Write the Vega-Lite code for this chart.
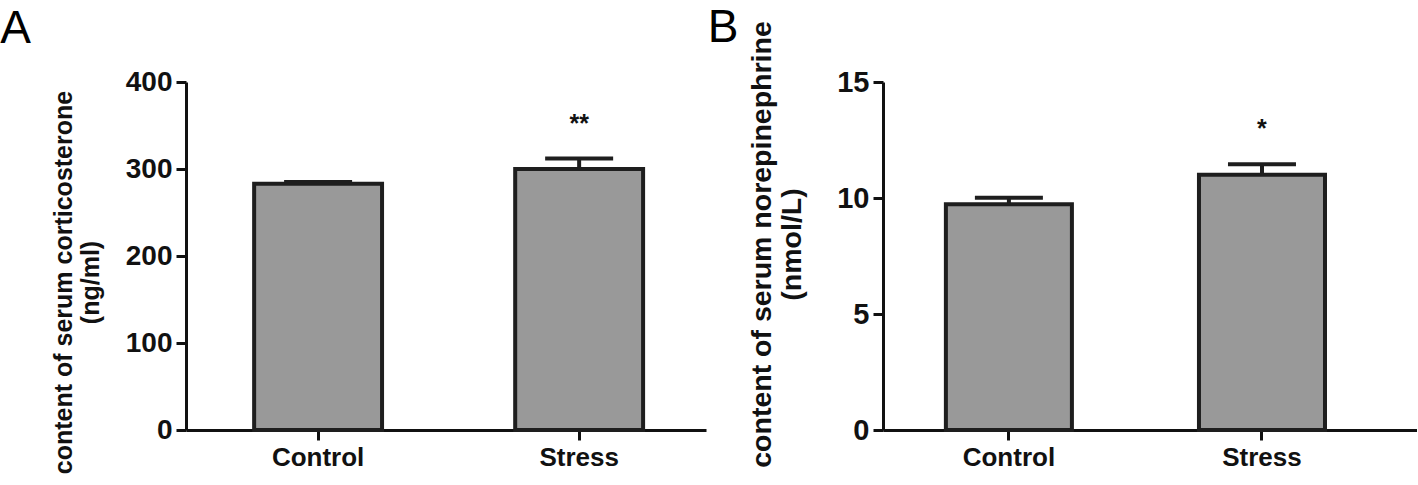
{
  "$schema": "https://vega.github.io/schema/vega-lite/v6.json",
  "background": "white",
  "padding": {"left": 0, "top": 4, "right": 0, "bottom": 0},
  "config": {
    "font": "Liberation Sans",
    "view": {"stroke": null},
    "axis": {
      "labelFont": "Liberation Sans", "labelFontSize": 26, "labelFontWeight": "bold", "labelColor": "#111",
      "titleFont": "Liberation Sans", "titleFontSize": 25, "titleFontWeight": "bold", "titleColor": "#111",
      "titleLineHeight": 27,
      "domainColor": "#111", "domainWidth": 3, "tickColor": "#111", "tickWidth": 3, "tickSize": 10,
      "grid": false, "labelPadding": 4
    },
    "title": {"font": "Liberation Sans", "fontSize": 46, "fontWeight": "normal", "color": "#000", "anchor": "start", "frame": "bounds"},
    "concat": {"spacing": 1}
  },
  "datasets": {
    "a": [
      {"group": "Control", "mean": 283, "upper": 285, "sig": ""},
      {"group": "Stress", "mean": 300, "upper": 312, "sig": "**"}
    ],
    "b": [
      {"group": "Control", "mean": 9.73, "upper": 10.01, "sig": ""},
      {"group": "Stress", "mean": 11.0, "upper": 11.46, "sig": "*"}
    ]
  },
  "hconcat": [
    {
      "title": {"text": "A", "dx": -51, "offset": 15},
      "width": 520,
      "height": 348,
      "data": {"name": "a"},
      "encoding": {
        "x": {"field": "group", "type": "nominal", "sort": ["Control", "Stress"],
              "scale": {"paddingInner": 0.51, "paddingOuter": 0.251, "align": 0.52},
              "axis": {"title": null, "labelAngle": 0}}
      },
      "layer": [
        {
          "mark": {"type": "bar", "fill": "#999999", "stroke": "#1e1e1e", "strokeWidth": 4},
          "encoding": {
            "y": {"field": "mean", "type": "quantitative",
                  "scale": {"domain": [0, 400], "nice": false},
                  "axis": {"values": [0, 100, 200, 300, 400], "labelFontSize": 28, "title": ["content of serum corticosterone", "(ng/ml)"], "titlePadding": 22, "titleY": 200}}
          }
        },
        {
          "mark": {"type": "rule", "color": "#1e1e1e", "strokeWidth": 4},
          "encoding": {"y": {"field": "mean", "type": "quantitative"}, "y2": {"field": "upper"}}
        },
        {
          "mark": {"type": "tick", "color": "#1e1e1e", "opacity": 1, "size": 68, "thickness": 4},
          "encoding": {"y": {"field": "upper", "type": "quantitative"}}
        },
        {
          "mark": {"type": "text", "fontSize": 25, "fontWeight": "bold", "color": "#111", "baseline": "alphabetic", "dy": -27},
          "encoding": {"y": {"field": "upper", "type": "quantitative"}, "text": {"field": "sig"}}
        }
      ]
    },
    {
      "title": {"text": "B", "dx": -40, "offset": -31},
      "width": 534,
      "height": 348,
      "data": {"name": "b"},
      "encoding": {
        "x": {"field": "group", "type": "nominal", "sort": ["Control", "Stress"],
              "scale": {"paddingInner": 0.502, "paddingOuter": 0.306, "align": 0.406},
              "axis": {"title": null, "labelAngle": 0}}
      },
      "layer": [
        {
          "mark": {"type": "bar", "fill": "#999999", "stroke": "#1e1e1e", "strokeWidth": 4},
          "encoding": {
            "y": {"field": "mean", "type": "quantitative",
                  "scale": {"domain": [0, 15], "nice": false},
                  "axis": {"values": [0, 5, 10, 15], "labelFontSize": 29, "titleFontSize": 28.5, "titleLineHeight": 30, "title": ["content of serum norepinephrine", "(nmol/L)"], "titlePadding": 30, "titleY": 162}}
          }
        },
        {
          "mark": {"type": "rule", "color": "#1e1e1e", "strokeWidth": 4},
          "encoding": {"y": {"field": "mean", "type": "quantitative"}, "y2": {"field": "upper"}}
        },
        {
          "mark": {"type": "tick", "color": "#1e1e1e", "opacity": 1, "size": 68, "thickness": 4},
          "encoding": {"y": {"field": "upper", "type": "quantitative"}}
        },
        {
          "mark": {"type": "text", "fontSize": 25, "fontWeight": "bold", "color": "#111", "baseline": "alphabetic", "dy": -27},
          "encoding": {"y": {"field": "upper", "type": "quantitative"}, "text": {"field": "sig"}}
        }
      ]
    }
  ]
}
